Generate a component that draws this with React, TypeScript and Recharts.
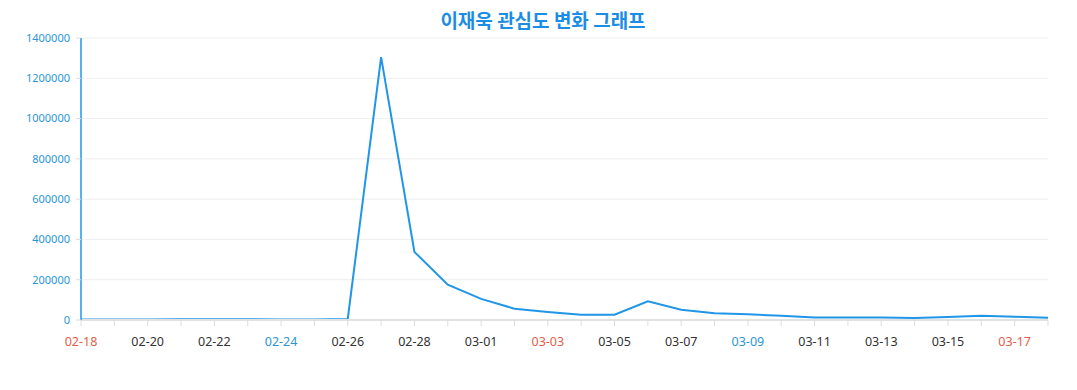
import React from "react";
import { LineChart, Line, XAxis, YAxis, CartesianGrid } from "recharts";

// 2024-02-18 ~ 2024-03-18
const dates = [
  "02-18", "02-19", "02-20", "02-21", "02-22", "02-23", "02-24", "02-25",
  "02-26", "02-27", "02-28", "02-29", "03-01", "03-02", "03-03", "03-04",
  "03-05", "03-06", "03-07", "03-08", "03-09", "03-10", "03-11", "03-12",
  "03-13", "03-14", "03-15", "03-16", "03-17", "03-18",
];
const interest = [
  3000, 3000, 3000, 4000, 4000, 3500, 3000, 3000,
  5000, 1305000, 338000, 175000, 105000, 56000, 40000, 26000,
  26000, 93000, 51000, 33000, 28000, 21000, 13000, 13000,
  13000, 10000, 15000, 21000, 16000, 11000,
];
const yTicks = [0, 200000, 400000, 600000, 800000, 1000000, 1200000, 1400000];
const sundays = ["02-18", "03-03", "03-17"];
const saturdays = ["02-24", "03-09"];

const data = dates.map((d, i) => ({ date: d, value: interest[i] }));

const BLUE = "#2196e8";

const DateTick = (props: any) => {
  const { x, y, payload, index } = props;
  if (index % 2 !== 0) return null;
  const d = payload.value;
  let fill = "#333";
  if (sundays.includes(d)) fill = "#e0604a";
  else if (saturdays.includes(d)) fill = "#2a96d6";
  return (
    <text x={x} y={y + 18} textAnchor="middle" fill={fill} fontSize={12.5}>
      {d}
    </text>
  );
};

export default function App() {
  return (
    <div
      style={{
        position: "absolute",
        left: 0,
        top: 0,
        width: 1077,
        height: 390,
        fontFamily: "'Noto Sans', 'Noto Sans CJK KR', sans-serif",
        background: "#fff",
      }}
    >
      <div
        style={{
          position: "absolute",
          top: 6,
          left: 0,
          width: 1086,
          textAlign: "center",
          fontFamily: "'Noto Sans CJK KR', sans-serif",
          fontWeight: 700,
          fontSize: 19,
          color: "#1c8de4",
        }}
      >
        이재욱 관심도 변화 그래프
      </div>
      <LineChart
        width={1077}
        height={390}
        data={data}
        margin={{ top: 38, right: 29, left: 0, bottom: 40 }}
      >
        <CartesianGrid vertical={false} stroke="#eeeeee" />
        <XAxis
          dataKey="date"
          interval={0}
          height={30}
          tick={<DateTick />}
          tickSize={6}
          tickLine={{ stroke: "#dddddd" }}
          axisLine={{ stroke: "#e2e2e2", strokeWidth: 2 }}
        />
        <YAxis
          width={81}
          domain={[0, 1400000]}
          ticks={yTicks}
          tickSize={5}
          tickMargin={6}
          tickLine={{ stroke: "#dddddd" }}
          axisLine={{ stroke: BLUE, strokeWidth: 1.5 }}
          tick={{ fill: "#2a96d6", fontSize: 11 }}
        />
        <Line
          type="linear"
          dataKey="value"
          stroke={BLUE}
          strokeWidth={2}
          dot={false}
          isAnimationActive={false}
        />
      </LineChart>
    </div>
  );
}
